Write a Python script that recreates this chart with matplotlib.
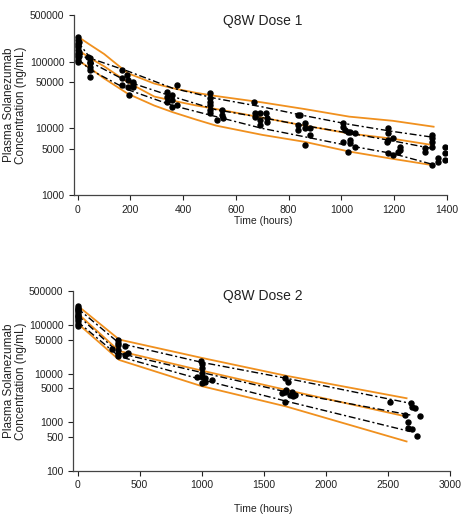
import matplotlib
matplotlib.use('Agg')
import matplotlib.pyplot as plt
from matplotlib.ticker import NullLocator, FixedLocator, FixedFormatter

plt.rcParams['font.family'] = ['Liberation Sans', 'DejaVu Sans']

# ---- Dose 1 ----
d1_obs_t = [0, 0, 0, 0, 0, 0, 0, 0, 0, 0, 0, 3, 3, 5,
            40, 45, 47, 47, 47, 47, 47,
            167, 167, 168, 186, 192, 192, 194, 211, 211, 211,
            337, 337, 337, 356, 356, 356, 375, 375,
            502, 502, 502, 502, 502, 502, 527, 546, 549, 552,
            670, 672, 672, 691, 691, 691, 714, 716, 719,
            836, 843, 836, 836, 862, 862, 862, 881, 881,
            1007, 1007, 1014, 1026, 1033, 1052, 1007, 1033, 1033, 1052, 1026,
            1178, 1178, 1178, 1172, 1197, 1222, 1222, 1216, 1178, 1197,
            1317, 1317, 1342, 1342, 1342, 1342, 1342, 1368, 1368, 1393, 1393, 1393]
d1_obs_c = [231000, 211000, 192000, 177000, 164000, 149000, 136000, 126000, 116000, 106000, 98600, 200000, 140000, 120000,
            118600, 112000, 94400, 84000, 74800, 59400, 100000,
            56000, 44600, 75000, 63000, 53000, 42000, 31600, 50000, 42000, 47000,
            35400, 29800, 25000, 31600, 26600, 21100, 44600, 22400,
            33500, 28200, 25000, 22400, 18800, 16800, 13300, 18800, 15800, 14100,
            25000, 16800, 14900, 16800, 13300, 11200, 16800, 14100, 12600,
            15800, 15800, 11200, 9440, 11900, 10000, 5620, 7940, 10300,
            11900, 10600, 9440, 8900, 8900, 8400, 6300, 6680, 5960, 5300, 4470,
            10000, 8400, 6680, 6300, 7080, 5300, 4730, 4470, 4220, 3980,
            5010, 4470, 7940, 7080, 6300, 5300, 2820, 3550, 3160, 5300, 4220, 3350]

d1_obs_pct_t = [0, 48, 190, 360, 525, 700, 860, 1030, 1195, 1345]
d1_obs_p95 = [200000, 112000, 72000, 40000, 28000, 21000, 15500, 11500, 9000, 7400]
d1_obs_p50 = [150000, 98000, 50000, 30000, 19000, 14500, 11000, 8500, 6500, 5000]
d1_obs_p05 = [110000, 75000, 38000, 22000, 15000, 10000, 7500, 5500, 4200, 2900]

d1_pred_t = [0, 48, 100, 190, 290, 360, 450, 525, 700, 860, 1030, 1195, 1350]
d1_pred_p95 = [237000, 177000, 130000, 67000, 47000, 40000, 34000, 30500, 24500, 19500, 15000, 13000, 10600]
d1_pred_p50 = [150000, 112000, 85000, 49000, 30000, 26000, 22000, 19500, 14500, 11000, 8400, 7000, 5600]
d1_pred_p05 = [105000, 79000, 56000, 33000, 22000, 17500, 13500, 11000, 8000, 6300, 4500, 3500, 2800]

# ---- Dose 2 ----
d2_obs_t = [0, 0, 0, 0, 0, 0, 0, 0, 0, 0, 0, 3, 5,
            274, 327, 327, 327, 327, 327, 327, 381, 381, 408,
            994, 1000, 1000, 1000, 959, 1000, 1027, 1030, 1080, 1000,
            1670, 1697, 1683, 1670, 1710, 1737, 1670, 1643, 1724, 1750,
            2517, 2683, 2691, 2718, 2637, 2758, 2664, 2664, 2691, 2737]
d2_obs_c = [245000, 225000, 205000, 190000, 175000, 160000, 145000, 130000, 118000, 106000, 97000, 210000, 150000,
            31600, 49100, 43200, 38700, 30500, 25300, 22900, 36900, 24100, 26900,
            18100, 15700, 12800, 10100, 8380, 8630, 6810, 8000, 7380, 6300,
            8000, 6810, 4590, 4240, 3700, 3450, 2640, 3930, 4240, 3620,
            2640, 2520, 2080, 1930, 1410, 1330, 1010, 748, 720, 519]

d2_obs_pct_t = [0, 336, 1000, 1680, 2680]
d2_obs_p95 = [220000, 42000, 17000, 8000, 2440]
d2_obs_p50 = [160000, 26100, 10500, 4200, 1400]
d2_obs_p05 = [117000, 22400, 7500, 2700, 640]

d2_pred_t = [0, 336, 1000, 1680, 2650]
d2_pred_p95 = [250000, 50000, 21000, 9000, 3100]
d2_pred_p50 = [174000, 29000, 11500, 4600, 1300]
d2_pred_p05 = [108000, 19000, 5500, 2100, 400]

orange = '#F0901E'
txt = '#222222'
dashdot = (0, (5, 2, 1.5, 2))

fig = plt.figure(figsize=(4.63, 5.15), dpi=100)
ax1 = fig.add_axes([0.160, 0.621, 0.805, 0.350])
ax2 = fig.add_axes([0.158, 0.086, 0.814, 0.349])

panels = [
    (ax1, 'Q8W Dose 1', d1_obs_t, d1_obs_c, d1_obs_pct_t, [d1_obs_p95, d1_obs_p50, d1_obs_p05],
     d1_pred_t, [d1_pred_p95, d1_pred_p50, d1_pred_p05], (-14, 1400), range(0, 1401, 200),
     (1000, 500000), [1000, 5000, 10000, 50000, 100000, 500000], 21, 221),
    (ax2, 'Q8W Dose 2', d2_obs_t, d2_obs_c, d2_obs_pct_t, [d2_obs_p95, d2_obs_p50, d2_obs_p05],
     d2_pred_t, [d2_pred_p95, d2_pred_p50, d2_pred_p05], (-35, 3000), range(0, 3001, 500),
     (100, 500000), [100, 500, 1000, 5000, 10000, 50000, 100000, 500000], 296, 509),
]

for (ax, title, ot, oc, pt, pobs, mt, mpred, xl, xt, yl, yt, ty, xly) in panels:
    for series in mpred:
        ax.plot(mt, series, color=orange, lw=1.3, zorder=2)
    for series in pobs:
        ax.plot(pt, series, color='black', lw=1.0, ls=dashdot, zorder=3)
    ax.plot(ot, oc, 'o', color='black', ms=3.6, zorder=4)

    ax.set_yscale('log')
    ax.set_xlim(*xl)
    ax.set_ylim(*yl)
    ax.yaxis.set_major_locator(FixedLocator(yt))
    ax.yaxis.set_major_formatter(FixedFormatter([str(v) for v in yt]))
    ax.yaxis.set_minor_locator(NullLocator())
    ax.set_xticks(list(xt))
    ax.tick_params(labelsize=7.5, colors=txt, length=3.5, width=0.8, direction='out')
    for s in ['top', 'right']:
        ax.spines[s].set_visible(False)
    for s in ['left', 'bottom']:
        ax.spines[s].set_color('#444444')
        ax.spines[s].set_linewidth(0.9)

    fig.text(263 / 463, 1 - ty / 515, title, ha='center', va='center', fontsize=10, color=txt)
    fig.text(263 / 463, 1 - xly / 515, 'Time (hours)', ha='center', va='center', fontsize=7.5, color=txt)
    pos = ax.get_position()
    fig.text(15 / 463, (pos.y0 + pos.y1) / 2, 'Plasma Solanezumab\nConcentration (ng/mL)',
             rotation=90, ha='center', va='center', fontsize=8.5, color=txt, linespacing=1.0)

fig.savefig('out.png', dpi=100)
